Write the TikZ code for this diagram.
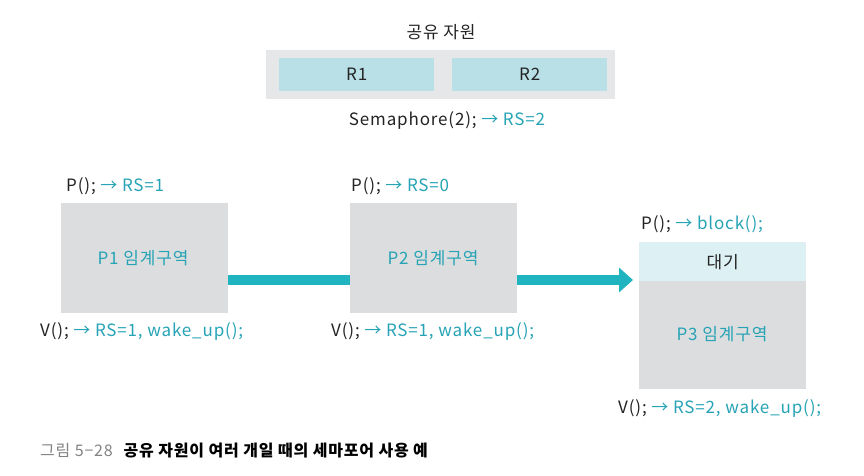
\documentclass[tikz,border=0pt]{standalone}
\usepackage{fontspec}
\setmainfont{Noto Sans CJK KR}[LetterSpace=5]
\usetikzlibrary{arrows.meta}
\definecolor{tealtxt}{RGB}{38,163,181}
\definecolor{tealarr}{RGB}{32,180,192}
\definecolor{outergray}{RGB}{230,231,232}
\definecolor{resblue}{RGB}{184,224,230}
\definecolor{boxgray}{RGB}{220,221,222}
\definecolor{waitblue}{RGB}{221,240,243}
\definecolor{darktxt}{RGB}{35,35,35}
\definecolor{capgray}{RGB}{130,130,130}
\tikzset{
  txt/.style={font=\fontsize{17}{20}\selectfont, text=darktxt, inner sep=0pt},
  tl/.style={txt, anchor=west},
  flow/.style={line width=10pt, draw=tealarr},
}
\newcommand{\tc}[1]{\textcolor{tealtxt}{#1}}
\begin{document}
\begin{tikzpicture}[x=1pt,y=-1pt]
\useasboundingbox (0,0) rectangle (864,476);
% shared resource
\node[txt] (title) at (441,32) {공유 자원};
\fill[outergray] (266,50) rectangle (615,99);
\node[fill=resblue, minimum width=155pt, minimum height=33pt, inner sep=0pt, anchor=north west, txt] (r1) at (279,58) {R1};
\node[fill=resblue, minimum width=155pt, minimum height=33pt, inner sep=0pt, anchor=north west, txt] (r2) at (452,58) {R2};
\node[txt] (sem) at (447,120) {Semaphore(2); \tc{→ RS=2}};
% P1
\node[fill=boxgray, minimum width=167pt, minimum height=110pt, anchor=north west, inner sep=0pt] (p1) at (61,203) {};
\node[txt, text=tealtxt] at (143,258) {P1 임계구역};
\node[tl] (p1p) at (66,186) {P(); \tc{→ RS=1}};
\node[tl] (p1v) at (40,331) {V(); \tc{→ RS=1, wake\_up();}};
% P2
\node[fill=boxgray, minimum width=167pt, minimum height=110pt, anchor=north west, inner sep=0pt] (p2) at (350,203) {};
\node[txt, text=tealtxt] at (433,258) {P2 임계구역};
\node[tl] (p2p) at (351,186) {P(); \tc{→ RS=0}};
\node[tl] (p2v) at (331,331) {V(); \tc{→ RS=1, wake\_up();}};
% P3
\node[fill=waitblue, minimum width=167pt, minimum height=39pt, anchor=north west, inner sep=0pt, txt] (wait) at (639,242) {대기};
\node[fill=boxgray, minimum width=167pt, minimum height=108pt, anchor=north west, inner sep=0pt] (p3) at (639,281) {};
\node[txt, text=tealtxt] at (722,334) {P3 임계구역};
\node[tl] (p3p) at (641,224) {P(); \tc{→ block();}};
\node[tl] (p3v) at (618,408) {V(); \tc{→ RS=2, wake\_up();}};
% arrows
\coordinate (a1) at (228,280);
\coordinate (a2) at (350,280);
\draw[flow] (a1) -- (a2);
\coordinate (b1) at (517,280);
\coordinate (b2) at (633,280);
\draw[flow, -{Triangle[length=14pt,width=24pt]}] (b1) -- (b2);
% caption
\node[anchor=west, inner sep=0pt, font=\fontsize{16}{19}\selectfont] (cap) at (40,451) {\textcolor{capgray}{그림 5−28}\hspace{11pt}\textbf{공유 자원이 여러 개일 때의 세마포어 사용 예}};
\end{tikzpicture}
\end{document}
